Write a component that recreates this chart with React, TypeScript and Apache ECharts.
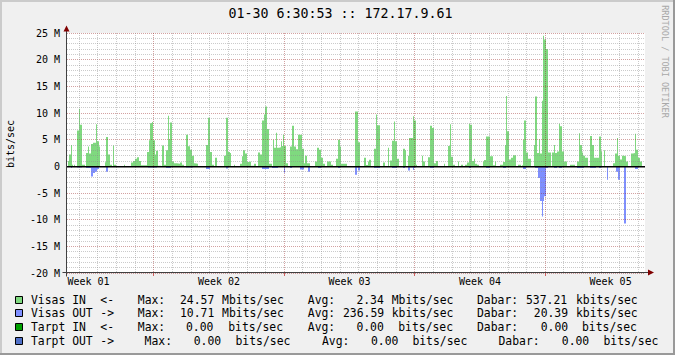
import React, { useEffect, useRef } from 'react';
import * as echarts from 'echarts';

// ---------- data (Mbit/s), one sample per plot column, 31 days ----------
const TITLE = '01-30 6:30:53 :: 172.17.9.61';
const SAMPLES = 578;
const DAYS = 31;
const FIRST_MIDNIGHT = 12.2; // sample index of first day boundary
const WEEK_FIRST_DAY = [4, 11, 18, 25]; // day boundaries that start a week
const weekLabels = ['Week 01', 'Week 02', 'Week 03', 'Week 04', 'Week 05'];
const weekLabelDays = [0.5, 7.5, 14.5, 21.5, 28.5];
const yTicks = { min: -20, max: 25, step: 5 };

// [start sample, value] change points, value holds until next point
const visasIn: [number, number][] = [
  [0, 0], [1, 1.0], [2, 2.2], [4, 4.0], [5, 0.3], [6, 0], [7, 0.3], [8, 0],
  [10, 6.7], [12, 10.8], [13, 7.8], [15, 0.3], [18, 0],
  [19, 2.5], [21, 3.7], [22, 2.4], [24, 4.2], [26, 4.4], [29, 7.9], [30, 4.7], [32, 3.7], [33, 0],
  [38, 0.75], [39, 5.5], [41, 2.2], [43, 0.3], [45, 0], [46, 3.9], [47, 0.3], [49, 0],
  [57, 0.3], [58, 0],
  [64, 0.7], [66, 1.0], [68, 1.4], [70, 1.7], [72, 1.0], [74, 0.2],
  [80, 2.7], [82, 4.9], [83, 8.1], [85, 8.3], [86, 4.9], [88, 2.2], [89, 2.9], [91, 0.1], [94, 0],
  [95, 3.9], [97, 0.3], [99, 3.0], [101, 9.5], [102, 5.1], [103, 8.2], [105, 0.9], [107, 0.6], [110, 0.5], [113, 0.7], [115, 0.3], [117, 0],
  [119, 5.9], [121, 3.75], [123, 3.1], [125, 2.0], [127, 0.6], [128, 0.5], [131, 0],
  [139, 4.0], [141, 9.1], [143, 2.7], [145, 0.3], [147, 0], [148, 1.6], [150, 0],
  [157, 2.0], [159, 9.1], [161, 2.7], [163, 2.5], [164, 0], [167, 0.3], [168, 0],
  [173, 0.5], [175, 1.9], [176, 3.0], [178, 2.4], [180, 0.8], [182, 0.9], [184, 0.1], [187, 0.5], [189, 0],
  [191, 2.6], [193, 2.2], [195, 8.6], [197, 9.7], [198, 11.2], [200, 7.0], [202, 0.5], [205, 0],
  [206, 5.0], [207, 3.5], [209, 6.3], [210, 3.5], [212, 3.6], [214, 4.7], [215, 3.8], [216, 5.9], [217, 3.8], [219, 0.6], [221, 0],
  [223, 3.7], [225, 7.6], [227, 3.7], [229, 3.2], [231, 5.9], [235, 3.3], [237, 0.6], [238, 2.0], [240, 0.6], [243, 0],
  [248, 0.9], [250, 3.5], [252, 3.1], [254, 1.6], [256, 0.5], [258, 0],
  [260, 0.9], [264, 0.3], [266, 0],
  [269, 1.4], [271, 5.0], [273, 3.7], [274, 0.5], [280, 0],
  [288, 10.3], [291, 4.5], [293, 0],
  [297, 1.6], [299, 0.25], [301, 0.9], [302, 1.25], [304, 0],
  [307, 3.3], [309, 9.7], [310, 7.7], [313, 0],
  [316, 0.7], [318, 0],
  [321, 3.5], [322, 0], [323, 1.1], [325, 4.8], [327, 8.4], [328, 4.7], [330, 1.4], [332, 0],
  [336, 3.3], [338, 3.0], [339, 0],
  [341, 2.0], [342, 5.3], [346, 9.4], [347, 8.6], [349, 0.3], [350, 0],
  [355, 2.0], [356, 0.9], [358, 0],
  [361, 1.7], [363, 7.6], [365, 7.2], [367, 0.6], [369, 1.0], [371, 0],
  [377, 0.5], [378, 0],
  [381, 3.8], [383, 7.9], [384, 1.8], [386, 0.3], [388, 0],
  [391, 0.9], [392, 0], [394, 0.3], [396, 0],
  [398, 0.3], [400, 0.7], [402, 8.0], [403, 7.8], [405, 1.0], [407, 1.4], [408, 0.5], [410, 0.3], [412, 0],
  [416, 0.9], [417, 1.2], [419, 5.6], [423, 1.9], [426, 0.2], [428, 0.9], [429, 0],
  [433, 0.3], [436, 0.8], [438, 4.0], [439, 13.2], [440, 6.6], [442, 1.3], [444, 1.6], [446, 2.1], [449, 0],
  [451, 0.3], [454, 0], [455, 0.2], [456, 5.0], [457, 8.6], [459, 2.6], [461, 1.4], [464, 0],
  [467, 4.0], [468, 13.1], [470, 2.5], [472, 5.1], [473, 2.4], [475, 12.3], [476, 24.5], [477, 23.8], [479, 22.0], [481, 2.6], [484, 0],
  [485, 2.6], [487, 4.0], [488, 2.5], [490, 2.8], [492, 8.0], [493, 7.5], [495, 2.8], [497, 0.9], [500, 0],
  [503, 0.3], [508, 0],
  [510, 0.9], [512, 6.2], [513, 4.0], [515, 2.6], [516, 2.0], [518, 1.6], [521, 0],
  [523, 5.7], [525, 4.0], [527, 1.6], [532, 5.6], [534, 2.8], [535, 0],
  [537, 3.0], [538, 0],
  [546, 0.6], [548, 2.4], [550, 5.3], [551, 2.0], [553, 1.3], [555, 2.0], [557, 1.9], [559, 0.9], [561, 0],
  [564, 2.4], [566, 2.5], [568, 6.1], [569, 3.1], [571, 1.6], [573, 0.9], [575, 0],
  [578, 0],
];

// outbound magnitudes (plotted downward)
const visasOut: [number, number][] = [
  [0, 0], [4, 0.3], [5, 0], [10, 0.2], [15, 0],
  [19, 0.3], [24, 1.9], [26, 1.25], [28, 1.0], [30, 0.5], [32, 0],
  [39, 1.0], [41, 0],
  [81, 0.2], [90, 0],
  [99, 0.3], [104, 0],
  [119, 0.2], [126, 0],
  [139, 0.5], [143, 0],
  [159, 0.4], [161, 0],
  [195, 0.5], [202, 0],
  [205, 0.3], [211, 0], [217, 1.2], [218, 0],
  [223, 0.3], [225, 0], [233, 0.6], [237, 0], [241, 1.0], [243, 0],
  [251, 0.3], [254, 0],
  [271, 0.3], [273, 0],
  [288, 1.6], [290, 0.2], [291, 0.8], [293, 0],
  [307, 0.3], [313, 0],
  [325, 0.3], [330, 0],
  [336, 0.3], [338, 0],
  [341, 0.8], [343, 0.2], [346, 0.7], [347, 0.2], [349, 0],
  [363, 0.3], [367, 0],
  [402, 0.3], [404, 0],
  [419, 0.3], [423, 0],
  [436, 0.3], [439, 0],
  [456, 0.5], [459, 0],
  [468, 0.3], [471, 2.2], [473, 6.5], [475, 9.4], [476, 6.5], [477, 5.6], [479, 0.3], [481, 0],
  [487, 0.3], [490, 0], [492, 0.3], [495, 0],
  [510, 0.3], [517, 0],
  [523, 0.3], [529, 0], [532, 0.3], [534, 0],
  [540, 2.5], [541, 0],
  [549, 1.0], [551, 2.5], [553, 0],
  [557, 10.7], [559, 0],
  [568, 0.5], [571, 0],
  [578, 0],
];

// legend table
const legendNames = ['Visas IN', 'Visas OUT', 'Tarpt IN', 'Tarpt OUT'];
const legendDirs = ['<-', '->', '<-', '->'];
const maxVals = ['24.57', '10.71', '0.00', '0.00'];
const maxUnits = ['Mbits/sec', 'Mbits/sec', 'bits/sec', 'bits/sec'];
const avgVals = ['2.34', '236.59', '0.00', '0.00'];
const avgUnits = ['Mbits/sec', 'kbits/sec', 'bits/sec', 'bits/sec'];
const curVals = ['537.21', '20.39', '0.00', '0.00'];
const curUnits = ['kbits/sec', 'kbits/sec', 'bits/sec', 'bits/sec'];

// ---------- styling / layout ----------
const MONO = '"DejaVu Sans Mono", monospace';
const GREEN = '#7FD97F';
const BLUE = '#7F8FFF';
const legendColors = [GREEN, BLUE, '#00A000', '#5070C8'];
const MAJOR = 'rgba(150,30,30,0.42)';
const MINOR = 'rgba(140,140,140,0.45)';
const AXIS = '#404040';
const ARROW = '#800000';
const W = 675;
const H = 355;
const GRID = { left: 67, right: 30, top: 33, bottom: 82 };

const legendY = [299.5, 313.3, 327.2, 341];
const legendX = {
  name: [31, 31, 31, 31],
  dir: [100.3, 100.3, 100.3, 100.3],
  maxL: [137.8, 137.8, 137.8, 144.6],
  maxV: [180, 180, 186, 193.7],
  maxU: [222.1, 222.1, 228.2, 235.5],
  avgL: [307.8, 307.8, 307.8, 322],
  avgV: [356.4, 343, 356.4, 371],
  avgU: [391.7, 391.7, 398.2, 412.4],
  curL: [477, 477, 477, 498.5],
  curV: [526, 533.8, 540.7, 561.8],
  curU: [576, 576, 582, 603.5],
};

const samplesPerDay = SAMPLES / DAYS;
const dayLines: [number, number][] = [];
for (let k = 0; FIRST_MIDNIGHT + k * samplesPerDay < SAMPLES; k++) {
  dayLines.push([FIRST_MIDNIGHT + k * samplesPerDay, WEEK_FIRST_DAY.includes(k) ? 1 : 0]);
}
const weekLabelPos = weekLabelDays.map((d) => FIRST_MIDNIGHT + d * samplesPerDay);

function txt(x: number, y: number, text: string, size: number, extra: any = {}) {
  return {
    type: 'text',
    x,
    y,
    silent: true,
    z: 100,
    ...extra,
    style: {
      text,
      fontFamily: MONO,
      fontSize: size,
      fill: extra.fill || '#000',
      align: extra.align || 'left',
      textAlign: extra.align || 'left',
      verticalAlign: 'middle',
      textVerticalAlign: 'middle',
    },
  };
}

function buildGraphic() {
  const g: any[] = [];
  const plotBottom = H - GRID.bottom;
  const plotRight = W - GRID.right;
  // frame
  g.push({ type: 'rect', shape: { x: 0, y: 0, width: W, height: 2 }, style: { fill: '#CBCBCB' }, silent: true });
  g.push({ type: 'rect', shape: { x: 0, y: 0, width: 2, height: H }, style: { fill: '#CBCBCB' }, silent: true });
  g.push({ type: 'rect', shape: { x: 0, y: H - 2, width: W, height: 2 }, style: { fill: '#999999' }, silent: true });
  g.push({ type: 'rect', shape: { x: W - 2, y: 0, width: 2, height: H }, style: { fill: '#999999' }, silent: true });
  // title
  g.push(txt(W / 2 + 3, 13.8, TITLE, 13.3, { align: 'center' }));
  // y axis title
  g.push(txt(10.5, 144, 'bits/sec', 10, { align: 'center', rotation: Math.PI / 2 }));
  // watermark
  g.push(txt(665, 61.5, 'RRDTOOL / TOBI OETIKER', 8.5, { align: 'center', rotation: -Math.PI / 2, fill: '#A8A8A8' }));
  // axes
  const ax = GRID.left - 0.5;
  const ay = plotBottom - 0.5;
  g.push({ type: 'line', shape: { x1: ax, y1: ay + 4, x2: ax, y2: GRID.top - 3 }, style: { stroke: AXIS, lineWidth: 1 }, silent: true, z: 50 });
  g.push({ type: 'line', shape: { x1: ax - 4, y1: ay, x2: plotRight + 3, y2: ay }, style: { stroke: AXIS, lineWidth: 1 }, silent: true, z: 50 });
  g.push({ type: 'polygon', shape: { points: [[ax - 3, GRID.top - 1.5], [ax, GRID.top - 7.5], [ax + 3, GRID.top - 1.5]] }, style: { fill: ARROW }, silent: true, z: 51 });
  g.push({ type: 'polygon', shape: { points: [[plotRight + 3, ay - 3], [plotRight + 9, ay], [plotRight + 3, ay + 3]] }, style: { fill: ARROW }, silent: true, z: 51 });
  // legend
  for (let i = 0; i < legendNames.length; i++) {
    const y = legendY[i];
    g.push({ type: 'rect', shape: { x: 15.5, y: Math.round(y) - 3.5, width: 7, height: 7 }, style: { fill: legendColors[i], stroke: '#000', lineWidth: 1 }, silent: true, z: 100 });
    const F = 11.4;
    g.push(txt(legendX.name[i], y, legendNames[i], F));
    g.push(txt(legendX.dir[i], y, legendDirs[i], F));
    g.push(txt(legendX.maxL[i], y, 'Max:', F));
    g.push(txt(legendX.maxV[i], y, maxVals[i], F));
    g.push(txt(legendX.maxU[i], y, maxUnits[i], F));
    g.push(txt(legendX.avgL[i], y, 'Avg:', F));
    g.push(txt(legendX.avgV[i], y, avgVals[i], F));
    g.push(txt(legendX.avgU[i], y, avgUnits[i], F));
    g.push(txt(legendX.curL[i], y, 'Dabar:', F));
    g.push(txt(legendX.curV[i], y, curVals[i], F));
    g.push(txt(legendX.curU[i], y, curUnits[i], F));
  }
  return g;
}

function buildOption(): any {
  return {
    animation: false,
    backgroundColor: '#F0F0F0',
    textStyle: { fontFamily: MONO },
    grid: { ...GRID, show: true, backgroundColor: '#FFFFFF', borderWidth: 0 },
    xAxis: {
      type: 'value',
      min: 0,
      max: SAMPLES,
      z: 3,
      axisLine: { show: false },
      axisTick: { show: false },
      splitLine: { show: false },
      axisLabel: {
        customValues: weekLabelPos,
        formatter: (v: number) => {
          let best = 0;
          weekLabelPos.forEach((p, i) => {
            if (Math.abs(p - v) < Math.abs(weekLabelPos[best] - v)) best = i;
          });
          return weekLabels[best];
        },
        fontFamily: MONO,
        fontSize: 10,
        color: '#000',
        margin: 3,
      },
    },
    yAxis: {
      type: 'value',
      min: yTicks.min,
      max: yTicks.max,
      interval: yTicks.step,
      z: 3,
      axisLine: { show: false },
      axisTick: { show: false },
      axisLabel: {
        formatter: (v: number) => (v === 0 ? '0' : `${v} M`),
        fontFamily: MONO,
        fontSize: 10,
        color: '#000',
        margin: 7,
      },
      splitLine: { show: true, lineStyle: { color: MAJOR, width: 1, type: [1, 1] } },
      minorTick: { show: false, splitNumber: 5 },
      minorSplitLine: { show: true, lineStyle: { color: MINOR, width: 1, type: [1, 1] } },
    },
    series: [
      {
        name: 'Visas IN',
        type: 'line',
        step: 'end',
        data: visasIn,
        symbol: 'none',
        showSymbol: false,
        silent: true,
        z: 2,
        itemStyle: { color: GREEN },
        lineStyle: { width: 0, color: GREEN },
        areaStyle: { color: GREEN, opacity: 1 },
      },
      {
        name: 'Visas OUT',
        type: 'line',
        step: 'end',
        data: visasOut.map(([t, v]) => [t, -v]),
        symbol: 'none',
        showSymbol: false,
        silent: true,
        z: 2,
        itemStyle: { color: BLUE },
        lineStyle: { width: 0, color: BLUE },
        areaStyle: { color: BLUE, opacity: 1 },
      },
      {
        name: 'daygrid',
        type: 'custom',
        data: dayLines,
        silent: true,
        clip: false,
        z: 4,
        renderItem: (params: any, api: any) => {
          const x = api.value(0);
          const kind = api.value(1);
          const p1 = api.coord([x, yTicks.max]);
          const p2 = api.coord([x, yTicks.min]);
          const px = Math.floor(p1[0]) + 0.5;
          const children: any[] = [
            {
              type: 'line',
              shape: { x1: px, y1: p1[1], x2: px, y2: p2[1] },
              style: { stroke: kind ? MAJOR : MINOR, lineWidth: 1, lineDash: [1, 1] },
            },
          ];
          if (kind) {
            children.push({
              type: 'line',
              shape: { x1: px, y1: p2[1] - 1, x2: px, y2: p2[1] + 3 },
              style: { stroke: 'rgba(200,60,60,0.8)', lineWidth: 1 },
            });
          }
          return { type: 'group', children };
        },
      },
      {
        name: 'zero',
        type: 'custom',
        data: [[0, 0]],
        silent: true,
        z: 5,
        renderItem: (params: any, api: any) => {
          const a = api.coord([0, 0]);
          const b = api.coord([SAMPLES, 0]);
          return {
            type: 'line',
            shape: { x1: a[0], y1: a[1] + 0.3, x2: b[0], y2: b[1] + 0.3 },
            style: { stroke: '#000', lineWidth: 1.5 },
          };
        },
      },
    ],
    graphic: buildGraphic(),
  };
}

export default function App() {
  const ref = useRef<HTMLDivElement>(null);
  useEffect(() => {
    document.body.style.margin = '0';
    if (!ref.current) return;
    const chart = echarts.init(ref.current, null, { renderer: 'svg' });
    chart.setOption(buildOption());
    return () => chart.dispose();
  }, []);
  return <div ref={ref} style={{ width: W, height: H }} />;
}
